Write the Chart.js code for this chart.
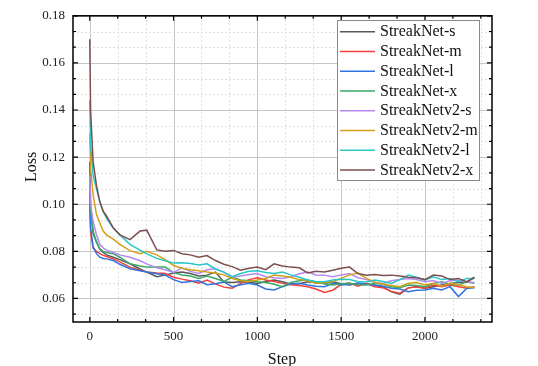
<!DOCTYPE html>
<html>
<head>
<meta charset="utf-8">
<script src="https://cdn.jsdelivr.net/npm/chart.js@4.4.1/dist/chart.umd.min.js"></script>
<style>
  html, body { margin: 0; padding: 0; background: #fff; }
  #wrap { width: 538px; height: 366px; }
</style>
</head>
<body>
<div id="wrap"><canvas id="lossChart"></canvas></div>
<script>
const steps = [0, 5, 20, 40, 60, 80, 100, 140, 180, 240, 300, 340, 400, 450,
  500, 550, 600, 650, 700, 750, 800, 850, 900, 950, 1000, 1050, 1100, 1150, 1200, 1250,
  1300, 1350, 1400, 1450, 1500, 1550, 1600, 1650, 1700, 1750, 1800, 1850, 1900, 1950,
  2000, 2050, 2100, 2150, 2200, 2250, 2295];

const seriesNames = ['StreakNet-s', 'StreakNet-m', 'StreakNet-l', 'StreakNet-x',
  'StreakNetv2-s', 'StreakNetv2-m', 'StreakNetv2-l', 'StreakNetv2-x'];

const lossS = [0.118, 0.100, 0.0876, 0.084, 0.081, 0.0795, 0.0785, 0.0775, 0.0765, 0.0747, 0.0725, 0.0712, 0.0692, 0.0699,
  0.0708, 0.0712, 0.0706, 0.0695, 0.0699, 0.0712, 0.0670, 0.0668, 0.0671, 0.0670, 0.0664, 0.0672, 0.0678, 0.0671, 0.0660, 0.0662,
  0.0671, 0.0668, 0.0664, 0.0671, 0.0662, 0.0657, 0.0664, 0.0662, 0.0655, 0.0650, 0.0628, 0.0618, 0.0645, 0.0650,
  0.0643, 0.0650, 0.0657, 0.0664, 0.0668, 0.0671, 0.0690];
const lossM = [0.100, 0.088, 0.0813, 0.080, 0.079, 0.0783, 0.0778, 0.0768, 0.0755, 0.0733, 0.0720, 0.0712, 0.0708, 0.0706,
  0.0690, 0.0682, 0.0675, 0.0665, 0.0678, 0.0662, 0.0648, 0.0643, 0.0664, 0.0680, 0.0688, 0.0678, 0.0672, 0.0664, 0.0658, 0.0655,
  0.0650, 0.0640, 0.0625, 0.0635, 0.0660, 0.0665, 0.0652, 0.0664, 0.0650, 0.0645, 0.0630, 0.0622, 0.0645, 0.0650,
  0.0643, 0.0657, 0.0650, 0.0657, 0.0650, 0.0643, 0.0650];
const lossL = [0.105, 0.090, 0.082, 0.079, 0.0775, 0.0770, 0.0768, 0.0761, 0.0745, 0.0726, 0.0718, 0.0712, 0.0705, 0.0699,
  0.0680, 0.0668, 0.0672, 0.0675, 0.0658, 0.0662, 0.0670, 0.0650, 0.0658, 0.0664, 0.0657, 0.0640, 0.0636, 0.0650, 0.0662, 0.0664,
  0.0657, 0.0652, 0.0650, 0.0664, 0.0657, 0.0660, 0.0664, 0.0660, 0.0657, 0.0652, 0.0643, 0.0640, 0.0629, 0.0635,
  0.0636, 0.0643, 0.0636, 0.0650, 0.0608, 0.0643, 0.0645];
const lossX = [0.110, 0.098, 0.0886, 0.084, 0.081, 0.0800, 0.0795, 0.0790, 0.0775, 0.0747, 0.0738, 0.0733, 0.0733, 0.0733,
  0.0710, 0.0700, 0.0695, 0.0685, 0.0695, 0.0685, 0.0672, 0.0690, 0.0678, 0.0675, 0.0671, 0.0668, 0.0660, 0.0650, 0.0668, 0.0675,
  0.0678, 0.0668, 0.0662, 0.0657, 0.0662, 0.0664, 0.0658, 0.0657, 0.0664, 0.0660, 0.0650, 0.0645, 0.0657, 0.0655,
  0.0650, 0.0664, 0.0671, 0.0660, 0.0657, 0.0671, 0.0664];
const lossV2S = [0.112, 0.100, 0.0927, 0.087, 0.083, 0.0815, 0.0805, 0.0795, 0.0785, 0.0775, 0.0760, 0.0747, 0.0730, 0.0722,
  0.0710, 0.0730, 0.0715, 0.0706, 0.0722, 0.0726, 0.0712, 0.0690, 0.0695, 0.0702, 0.0706, 0.0692, 0.0688, 0.0685, 0.0692, 0.0705,
  0.0712, 0.0700, 0.0699, 0.0692, 0.0700, 0.0706, 0.0688, 0.0680, 0.0668, 0.0664, 0.0675, 0.0680, 0.0685, 0.0680,
  0.0671, 0.0676, 0.0664, 0.0675, 0.0678, 0.0671, 0.0668];
const lossV2M = [0.130, 0.115, 0.104, 0.0956, 0.092, 0.0886, 0.0870, 0.0852, 0.0830, 0.0803, 0.0790, 0.0800, 0.0785, 0.0765,
  0.0740, 0.0728, 0.0722, 0.0718, 0.0712, 0.0708, 0.0700, 0.0685, 0.0675, 0.0672, 0.0678, 0.0685, 0.0699, 0.0695, 0.0690, 0.0680,
  0.0675, 0.0664, 0.0668, 0.0671, 0.0685, 0.0700, 0.0708, 0.0685, 0.0670, 0.0660, 0.0655, 0.0650, 0.0665, 0.0668,
  0.0657, 0.0664, 0.0652, 0.0664, 0.0658, 0.0650, 0.0645];
const lossV2L = [0.144, 0.125, 0.112, 0.1066, 0.101, 0.097, 0.094, 0.0899, 0.0870, 0.0830, 0.0805, 0.0789, 0.0770, 0.0760,
  0.0750, 0.0752, 0.0748, 0.0742, 0.0747, 0.0725, 0.0712, 0.0692, 0.0706, 0.0715, 0.0718, 0.0710, 0.0706, 0.0712, 0.0700, 0.0690,
  0.0678, 0.0672, 0.0671, 0.0678, 0.0682, 0.0680, 0.0672, 0.0670, 0.0678, 0.0672, 0.0664, 0.0680, 0.0699, 0.0690,
  0.0678, 0.0692, 0.0680, 0.0685, 0.0671, 0.0685, 0.0685];
const lossV2X = [0.170, 0.140, 0.118, 0.108, 0.101, 0.097, 0.095, 0.090, 0.087, 0.085, 0.0886, 0.0890, 0.0806, 0.0800,
  0.0804, 0.0790, 0.0785, 0.0775, 0.0782, 0.0761, 0.0745, 0.0735, 0.0720, 0.0728, 0.0733, 0.0722, 0.0747, 0.0738, 0.0733, 0.0730,
  0.0708, 0.0715, 0.0712, 0.0720, 0.0728, 0.0733, 0.0706, 0.0699, 0.0702, 0.0697, 0.0699, 0.0695, 0.0690, 0.0688,
  0.0680, 0.0699, 0.0695, 0.0680, 0.0685, 0.0670, 0.0688];

const allLoss = [lossS, lossM, lossL, lossX, lossV2S, lossV2M, lossV2L, lossV2X];
const lineColors = ['#575757', '#f2403c', '#2f74e0', '#38a868', '#b589ee', '#d4a017', '#28c8c8', '#7d4f4f'];

// axis ticks: labelled majors, two minors in between
const xMajor = [0, 500, 1000, 1500, 2000];
const yMajor = [0.06, 0.08, 0.10, 0.12, 0.14, 0.16, 0.18];
const xTicks = [];
for (let k = 0; k <= 14; k++) xTicks.push(k * 500 / 3);
const yTicks = [];
for (let k = 8; k <= 27; k++) yTicks.push(k * 0.02 / 3);

const isMajorX = v => xMajor.some(m => Math.abs(m - v) < 1e-6);
const isMajorY = v => yMajor.some(m => Math.abs(m - v) < 1e-9);

const datasets = allLoss.map((arr, i) => ({
  label: seriesNames[i],
  data: arr.map((v, j) => ({ x: steps[j], y: v })),
  borderColor: lineColors[i],
  backgroundColor: lineColors[i],
  borderWidth: 1.5,
  pointRadius: 0,
  tension: 0,
  order: allLoss.length - i
}));

const frame = {
  id: 'frame',
  beforeDatasetsDraw(chart) {
    const { ctx, chartArea: a, scales: { x, y } } = chart;
    ctx.save();
    ctx.lineWidth = 1;
    xTicks.forEach(v => {
      const px = Math.round(x.getPixelForValue(v)) + 0.5;
      if (isMajorX(v)) { ctx.strokeStyle = '#c6c6c6'; ctx.setLineDash([]); }
      else { ctx.strokeStyle = '#e0e0e0'; ctx.setLineDash([2, 2]); }
      ctx.beginPath(); ctx.moveTo(px, a.top); ctx.lineTo(px, a.bottom); ctx.stroke();
    });
    yTicks.forEach(v => {
      const py = Math.round(y.getPixelForValue(v)) + 0.5;
      if (isMajorY(v)) { ctx.strokeStyle = '#c6c6c6'; ctx.setLineDash([]); }
      else { ctx.strokeStyle = '#e0e0e0'; ctx.setLineDash([2, 2]); }
      ctx.beginPath(); ctx.moveTo(a.left, py); ctx.lineTo(a.right, py); ctx.stroke();
    });
    ctx.restore();
  },
  afterDraw(chart) {
    const { ctx, chartArea: a, scales: { x, y } } = chart;
    ctx.save();
    ctx.strokeStyle = '#000';
    ctx.lineWidth = 1.5;
    ctx.strokeRect(a.left, a.top, a.right - a.left, a.bottom - a.top);
    ctx.lineWidth = 1.2;
    xTicks.forEach(v => {
      const px = x.getPixelForValue(v);
      const len = isMajorX(v) ? 5 : 3;
      ctx.beginPath();
      ctx.moveTo(px, a.bottom); ctx.lineTo(px, a.bottom - len);
      ctx.moveTo(px, a.top); ctx.lineTo(px, a.top + len);
      ctx.stroke();
    });
    yTicks.forEach(v => {
      const py = y.getPixelForValue(v);
      const len = isMajorY(v) ? 5 : 3;
      ctx.beginPath();
      ctx.moveTo(a.left, py); ctx.lineTo(a.left + len, py);
      ctx.moveTo(a.right, py); ctx.lineTo(a.right - len, py);
      ctx.stroke();
    });

    // axis titles
    ctx.fillStyle = '#111';
    ctx.font = '16px "Liberation Serif"';
    ctx.textAlign = 'center';
    ctx.textBaseline = 'middle';
    ctx.fillText('Step', (a.left + a.right) / 2 - 0.5, 360);
    ctx.save();
    ctx.translate(32, 167);
    ctx.rotate(-Math.PI / 2);
    ctx.fillText('Loss', 0, 0);
    ctx.restore();

    // legend box inside the plot
    const bx = 337, by = 20, bw = 142, bh = 160;
    ctx.fillStyle = '#fff';
    ctx.fillRect(bx, by, bw, bh);
    ctx.strokeStyle = '#8a8a8a';
    ctx.lineWidth = 1;
    ctx.strokeRect(bx + 0.5, by + 0.5, bw, bh);
    ctx.textAlign = 'left';
    chart.data.datasets.forEach((ds, i) => {
      const cy = by + 11.7 + i * 19.76;
      ctx.strokeStyle = ds.borderColor;
      ctx.lineWidth = 1.5;
      ctx.beginPath(); ctx.moveTo(340, cy); ctx.lineTo(375, cy); ctx.stroke();
      ctx.fillStyle = '#111';
      ctx.fillText(ds.label, 380, cy + 0.5);
    });
    ctx.restore();
  }
};

Chart.defaults.font.family = '"Liberation Serif", serif';
Chart.defaults.font.size = 13;
Chart.defaults.color = '#222';

new Chart(document.getElementById('lossChart'), {
  type: 'line',
  data: { datasets },
  options: {
    responsive: true,
    maintainAspectRatio: false,
    animation: false,
    layout: { padding: { left: 0, right: 46, top: 10, bottom: 0 } },
    plugins: { legend: { display: false }, tooltip: { enabled: false } },
    scales: {
      x: {
        type: 'linear',
        min: -100,
        max: 2400,
        afterBuildTicks: s => { s.ticks = xTicks.map(v => ({ value: v })); },
        afterFit: s => { s.height = 44; },
        grid: { display: false, drawTicks: false, tickLength: 0 },
        border: { display: false },
        ticks: {
          padding: 7,
          autoSkip: false,
          maxRotation: 0,
          callback: v => isMajorX(v) ? String(Math.round(v)) : ''
        }
      },
      y: {
        min: 0.05,
        max: 0.18,
        afterBuildTicks: s => { s.ticks = yTicks.map(v => ({ value: v })); },
        afterFit: s => { s.width = 73; },
        grid: { display: false, drawTicks: false, tickLength: 0 },
        border: { display: false },
        ticks: {
          padding: 8,
          autoSkip: false,
          callback: v => isMajorY(v) ? v.toFixed(2) : ''
        }
      }
    }
  },
  plugins: [frame]
});
</script>
</body>
</html>
